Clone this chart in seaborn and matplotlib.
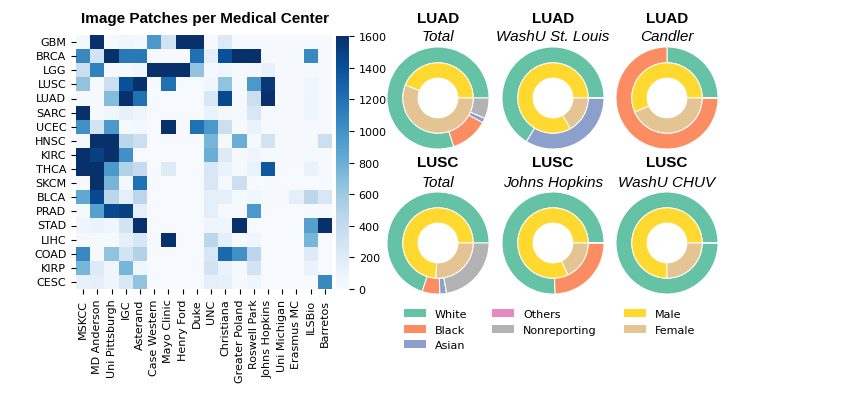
import numpy as np
import pandas as pd
import matplotlib
matplotlib.use("Agg")
import matplotlib.pyplot as plt
import seaborn as sns
from matplotlib.patches import Patch

# ---------------- data ----------------
cancer_types = ["GBM", "BRCA", "LGG", "LUSC", "LUAD", "SARC", "UCEC", "HNSC", "KIRC",
                "THCA", "SKCM", "BLCA", "PRAD", "STAD", "LIHC", "COAD", "KIRP", "CESC"]
medical_centers = ["MSKCC", "MD Anderson", "Uni Pittsburgh", "IGC", "Asterand",
                   "Case Western", "Mayo Clinic", "Henry Ford", "Duke", "UNC",
                   "Christiana", "Greater Poland", "Roswell Park", "Johns Hopkins",
                   "Uni Michigan", "Erasmus MC", "ILSBio", "Barretos"]

gbm  = [50, 1700, 20, 60, 40, 950, 300, 1700, 1700, 30, 220, 20, 20, 20, 20, 20, 20, 20]
brca = [1050, 300, 1700, 1150, 1150, 10, 10, 10, 1200, 150, 1400, 1700, 1700, 20, 20, 20, 1050, 20]
lgg  = [350, 1100, 20, 30, 60, 1700, 1700, 1700, 650, 40, 60, 20, 40, 120, 20, 20, 20, 20]
lusc = [650, 20, 350, 1400, 1700, 10, 1200, 10, 10, 60, 650, 20, 950, 1550, 20, 20, 60, 20]
luad = [20, 20, 700, 1700, 1200, 10, 10, 10, 10, 250, 1450, 20, 350, 1700, 20, 20, 80, 20]
sarc = [1700, 20, 60, 130, 70, 10, 10, 10, 10, 100, 40, 20, 250, 20, 20, 20, 70, 20]
ucec = [1000, 300, 950, 20, 40, 10, 1700, 10, 1200, 950, 350, 20, 100, 20, 20, 20, 20, 20]
hnsc = [20, 1700, 1700, 450, 350, 10, 10, 10, 10, 750, 20, 800, 20, 300, 20, 20, 20, 350]
kirc = [1700, 1500, 1700, 1000, 10, 10, 10, 10, 10, 800, 200, 20, 80, 20, 20, 20, 20, 20]
thca = [1700, 1700, 950, 500, 400, 10, 200, 10, 10, 250, 100, 20, 100, 1350, 10, 10, 100, 20]
skcm = [20, 1700, 750, 40, 1200, 10, 10, 10, 10, 250, 20, 350, 10, 10, 10, 10, 10, 10]
blca = [850, 1450, 450, 150, 450, 10, 10, 10, 10, 150, 150, 30, 60, 20, 20, 150, 450, 250]
prad = [30, 900, 1450, 1500, 150, 10, 10, 10, 10, 150, 20, 20, 950, 10, 10, 10, 10, 10]
stad = [80, 100, 60, 300, 1700, 10, 10, 10, 10, 80, 80, 1700, 10, 10, 10, 10, 900, 1700]
lihc = [20, 20, 20, 150, 250, 10, 1700, 10, 10, 450, 150, 20, 60, 10, 10, 10, 750, 10]
coad = [1050, 20, 650, 300, 500, 10, 10, 10, 10, 250, 1250, 1000, 450, 10, 10, 10, 200, 10]
kirp = [750, 200, 80, 750, 60, 10, 10, 10, 10, 300, 100, 20, 300, 10, 10, 10, 100, 10]
cesc = [120, 150, 80, 250, 650, 10, 10, 10, 10, 150, 120, 20, 80, 10, 10, 10, 10, 1050]

patch_rows = [gbm, brca, lgg, lusc, luad, sarc, ucec, hnsc, kirc, thca, skcm, blca,
              prad, stad, lihc, coad, kirp, cesc]
colorbar_ticks = [0, 200, 400, 600, 800, 1000, 1200, 1400, 1600]

race_labels = ["White", "Black", "Asian", "Others", "Nonreporting"]
sex_labels = ["Male", "Female"]

donut_titles = ["LUAD", "LUAD", "LUAD", "LUSC", "LUSC", "LUSC"]
donut_subtitles = ["Total", "WashU St. Louis", "Candler", "Total", "Johns Hopkins", "WashU CHUV"]

luad_total_race = [80.0, 12.0, 1.5, 0.0, 6.5]
luad_washu_race = [66.3, 0.0, 33.7, 0.0, 0.0]
luad_candler_race = [25.0, 75.0, 0.0, 0.0, 0.0]
lusc_total_race = [70.0, 5.6, 2.1, 0.0, 22.3]
lusc_jh_race = [75.7, 24.3, 0.0, 0.0, 0.0]
lusc_chuv_race = [100.0, 0.0, 0.0, 0.0, 0.0]

luad_total_sex = [44.0, 56.0]
luad_washu_sex = [83.2, 16.8]
luad_candler_sex = [56.6, 43.4]
lusc_total_sex = [74.0, 26.0]
lusc_jh_sex = [82.0, 18.0]
lusc_chuv_sex = [75.0, 25.0]

race_sets = [luad_total_race, luad_washu_race, luad_candler_race,
             lusc_total_race, lusc_jh_race, lusc_chuv_race]
sex_sets = [luad_total_sex, luad_washu_sex, luad_candler_sex,
            lusc_total_sex, lusc_jh_sex, lusc_chuv_sex]

# ---------------- figure ----------------
W, H = 843, 414
fig = plt.figure(figsize=(W / 100, H / 100), dpi=100)


def fx(px):
    return px / W


def fy(py):
    return 1 - py / H


set2 = sns.color_palette("Set2", 8)
race_colors = [set2[0], set2[1], set2[2], set2[3], set2[7]]
sex_colors = [set2[5], set2[6]]

# heatmap
df = pd.DataFrame(patch_rows, index=cancer_types, columns=medical_centers)
hx0, hx1, hy0, hy1 = 76, 332, 36, 290
ax = fig.add_axes([fx(hx0), fy(hy1), (hx1 - hx0) / W, (hy1 - hy0) / H])
cax = fig.add_axes([fx(336), fy(290), 13 / W, (290 - 37) / H])
sns.heatmap(df, cmap="Blues", vmin=0, vmax=1600, ax=ax, cbar_ax=cax,
            cbar_kws={"ticks": colorbar_ticks})
ax.set_xticks(np.arange(len(medical_centers)) + 0.5)
ax.set_xticklabels(medical_centers, rotation=90, fontsize=8)
ax.set_yticks(np.arange(len(cancer_types)) + 0.5)
ax.set_yticklabels(cancer_types, rotation=0, fontsize=8)
ax.set_xlabel("")
ax.set_ylabel("")
cax.tick_params(labelsize=8)
fig.text(fx(205), fy(18.5), "Image Patches per Medical Center", ha="center", va="center",
         fontsize=11, fontweight="bold", family=["Liberation Sans", "DejaVu Sans"])

# donuts
centers_x = [438, 553, 667]
centers_y = [99, 244]
R = 51
lim = 1.3
side = 2 * lim * R
for i in range(6):
    cx = centers_x[i % 3]
    cy = centers_y[i // 3]
    pax = fig.add_axes([fx(cx - side / 2), fy(cy + side / 2), side / W, side / H])
    wp = dict(edgecolor="white", linewidth=0.7)
    pax.pie(race_sets[i], radius=1.0, colors=race_colors, startangle=0,
            counterclock=True, wedgeprops=dict(width=0.31, **wp))
    pax.pie(sex_sets[i], radius=0.69, colors=sex_colors, startangle=0,
            counterclock=True, wedgeprops=dict(width=0.30, **wp))
    pax.set_xlim(-lim, lim)
    pax.set_ylim(-lim, lim)
    pax.set_aspect("equal")
    pax.axis("off")
    ty = 19 if i < 3 else 163.3
    sy = 36.7 if i < 3 else 182.7
    fig.text(fx(cx), fy(ty), donut_titles[i], ha="center", va="center", fontsize=11,
             fontweight="bold", family=["Liberation Sans", "DejaVu Sans"])
    fig.text(fx(cx), fy(sy), donut_subtitles[i], ha="center", va="center", fontsize=11,
             fontstyle="italic", family=["Liberation Sans", "DejaVu Sans"])

# legends
race_handles = [Patch(facecolor=c, edgecolor="none", label=l)
                for c, l in zip(race_colors, race_labels)]
sex_handles = [Patch(facecolor=c, edgecolor="none", label=l)
               for c, l in zip(sex_colors, sex_labels)]
fig.legend(handles=race_handles, ncol=2, frameon=False, fontsize=8,
           loc="upper left", bbox_to_anchor=(fx(394), fy(300)),
           columnspacing=2.2)
fig.legend(handles=sex_handles, ncol=1, frameon=False, fontsize=8,
           loc="upper left", bbox_to_anchor=(fx(614), fy(300)))

fig.savefig("out.png", dpi=100)
